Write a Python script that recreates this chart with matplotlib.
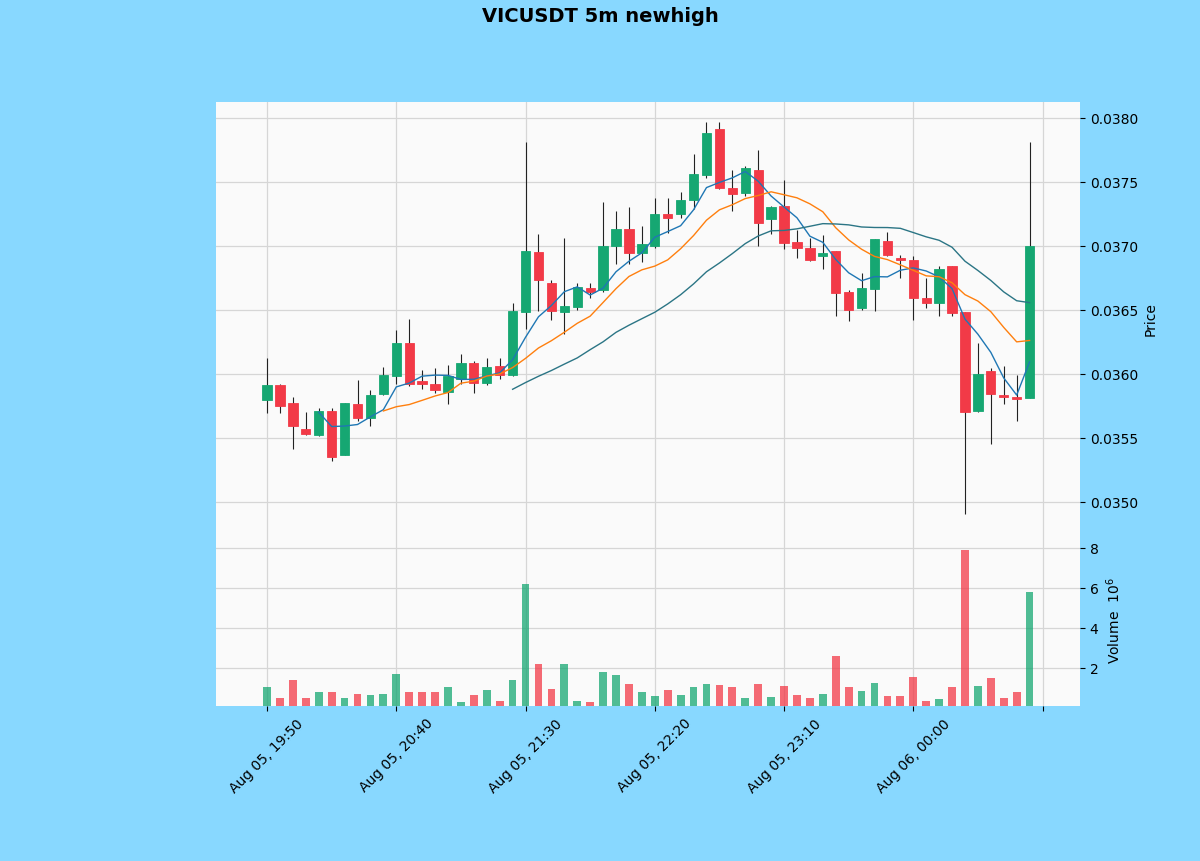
import matplotlib
matplotlib.use('Agg')
import matplotlib.pyplot as plt
from matplotlib.ticker import FuncFormatter, MultipleLocator
import numpy as np
import pandas as pd

# ---- dane ----
opens = [0.03579, 0.03591, 0.03577, 0.03557, 0.03552, 0.03571, 0.03536, 0.03576, 0.03565, 0.03584,
         0.03598, 0.03624, 0.03594, 0.03592, 0.03586, 0.03596, 0.03608, 0.03593, 0.03606, 0.03599,
         0.03648, 0.03695, 0.03671, 0.03648, 0.03652, 0.03667, 0.03665, 0.03700, 0.03713, 0.03694,
         0.03700, 0.03725, 0.03725, 0.03736, 0.03755, 0.03791, 0.03745, 0.03741, 0.03759, 0.03721,
         0.03731, 0.03703, 0.03698, 0.03692, 0.03696, 0.03664, 0.03651, 0.03666, 0.03704, 0.03690,
         0.03689, 0.03659, 0.03655, 0.03684, 0.03648, 0.03571, 0.03602, 0.03583, 0.03582, 0.03581]
highs = [0.03612, 0.03592, 0.03582, 0.03570, 0.03573, 0.03573, 0.03577, 0.03595, 0.03587, 0.03605,
         0.03634, 0.03643, 0.03603, 0.03604, 0.03607, 0.03615, 0.03610, 0.03612, 0.03612, 0.03655,
         0.03781, 0.03709, 0.03673, 0.03706, 0.03671, 0.03671, 0.03734, 0.03727, 0.03730, 0.03715,
         0.03737, 0.03737, 0.03742, 0.03772, 0.03797, 0.03797, 0.03759, 0.03762, 0.03775, 0.03731,
         0.03751, 0.03712, 0.03706, 0.03708, 0.03696, 0.03665, 0.03679, 0.03705, 0.03711, 0.03693,
         0.03692, 0.03675, 0.03684, 0.03684, 0.03648, 0.03624, 0.03604, 0.03606, 0.03599, 0.03781]
lows = [0.03569, 0.03569, 0.03541, 0.03552, 0.03551, 0.03532, 0.03536, 0.03563, 0.03559, 0.03583,
        0.03592, 0.03590, 0.03588, 0.03585, 0.03576, 0.03592, 0.03585, 0.03591, 0.03596, 0.03598,
        0.03635, 0.03649, 0.03642, 0.03631, 0.03650, 0.03659, 0.03664, 0.03686, 0.03686, 0.03687,
        0.03698, 0.03710, 0.03722, 0.03729, 0.03753, 0.03744, 0.03727, 0.03739, 0.03700, 0.03709,
        0.03697, 0.03690, 0.03688, 0.03682, 0.03645, 0.03641, 0.03650, 0.03649, 0.03692, 0.03675,
        0.03642, 0.03651, 0.03645, 0.03645, 0.03490, 0.03570, 0.03545, 0.03576, 0.03563, 0.03581]
closes = [0.03591, 0.03575, 0.03559, 0.03553, 0.03571, 0.03535, 0.03577, 0.03565, 0.03583, 0.03599,
          0.03624, 0.03592, 0.03592, 0.03587, 0.03598, 0.03608, 0.03593, 0.03605, 0.03599, 0.03649,
          0.03696, 0.03673, 0.03649, 0.03653, 0.03668, 0.03664, 0.03700, 0.03713, 0.03694, 0.03701,
          0.03725, 0.03722, 0.03736, 0.03756, 0.03788, 0.03745, 0.03740, 0.03761, 0.03718, 0.03730,
          0.03702, 0.03698, 0.03689, 0.03694, 0.03663, 0.03650, 0.03667, 0.03705, 0.03693, 0.03689,
          0.03659, 0.03655, 0.03682, 0.03647, 0.03570, 0.03600, 0.03584, 0.03582, 0.03580, 0.03700]
# wolumen w milionach
volumes = [1.02, 0.47, 1.37, 0.47, 0.77, 0.77, 0.47, 0.70, 0.65, 0.70,
           1.68, 0.80, 0.80, 0.77, 1.02, 0.27, 0.63, 0.90, 0.32, 1.37,
           6.18, 2.20, 0.95, 2.20, 0.35, 0.28, 1.77, 1.62, 1.20, 0.77,
           0.57, 0.90, 0.65, 1.02, 1.20, 1.13, 1.02, 0.47, 1.20, 0.52,
           1.10, 0.63, 0.47, 0.70, 2.57, 1.02, 0.83, 1.23, 0.57, 0.57,
           1.53, 0.35, 0.43, 1.02, 7.90, 1.07, 1.48, 0.47, 0.80, 5.77]
mav_okresy = [5, 10, 20]
start = '2023-08-05 19:50'

# ---- kolory ----
kolor_tlo = '#88d8ff'
kolor_up = '#16a772'
kolor_down = '#f23a47'
kolory_mav = ['#1f77b4', '#ff7f0e', '#2b7585']

daty = pd.date_range(start, periods=len(closes), freq='5min')
x = np.arange(len(closes))
o = np.array(opens)
c = np.array(closes)
up = c >= o
kolory = np.where(up, kolor_up, kolor_down)

fig = plt.figure(figsize=(12, 8.62), dpi=100, facecolor=kolor_tlo)
ax = fig.add_axes([0.18, 0.3794, 0.72, 0.5012])
axv = fig.add_axes([0.18, 0.1798, 0.72, 0.1995], sharex=ax)

for a in (ax, axv):
    a.set_facecolor('#fafafa')
    a.grid(True, color='#d6d6d6', linewidth=0.9)
    a.set_axisbelow(True)
    for s in a.spines.values():
        s.set_visible(False)
    a.yaxis.tick_right()
    a.yaxis.set_label_position('right')

# swiece
ax.vlines(x, lows, highs, color='#222222', linewidth=0.8, zorder=2)
dol = np.minimum(o, c)
wys = np.abs(c - o)
wys = np.where(wys < 0.000004, 0.000004, wys)
ax.bar(x, wys, bottom=dol, width=0.72, color=kolory, edgecolor=kolory, linewidth=0.6, zorder=3)

# srednie kroczace
s_close = pd.Series(closes)
for okres, kol in zip(mav_okresy, kolory_mav):
    ax.plot(x, s_close.rolling(okres).mean(), color=kol, linewidth=1.0, zorder=4)

rng = max(highs) - min(lows)
ax.set_ylim(min(lows) - 0.05 * rng, max(highs) + 0.05 * rng)
ax.yaxis.set_major_locator(MultipleLocator(0.0005))
ax.yaxis.set_major_formatter(FuncFormatter(lambda v, p: f'{v:.4f}'))
ax.set_ylabel('Price', fontsize=10)
ax.tick_params(axis='x', labelbottom=False, length=0)

# wolumen
axv.bar(x, volumes, width=0.6, color=kolory, alpha=0.75, zorder=3)
axv.set_ylim(0.3 * min(volumes), 1.1 * max(volumes))
axv.yaxis.set_major_locator(MultipleLocator(2))
axv.yaxis.set_major_formatter(FuncFormatter(lambda v, p: f'{v:.0f}' if v > 0 else ''))
axv.set_ylabel('Volume  $10^6$', fontsize=10)

axv.set_xlim(-3.95, 62.9)
axv.set_xticks(np.arange(0, 61, 10))


def format_daty(v, p):
    i = int(round(v))
    if 0 <= i < len(daty):
        return daty[i].strftime('%b %d, %H:%M')
    return ''


axv.xaxis.set_major_formatter(FuncFormatter(format_daty))
plt.setp(axv.get_xticklabels(), rotation=45, ha='center', fontsize=10)
ax.tick_params(axis='y', labelsize=10)
axv.tick_params(axis='y', labelsize=10)

fig.suptitle('VICUSDT 5m newhigh', fontsize=14, fontweight='bold', y=0.992)

fig.savefig('out.png', dpi=100, facecolor=kolor_tlo)
